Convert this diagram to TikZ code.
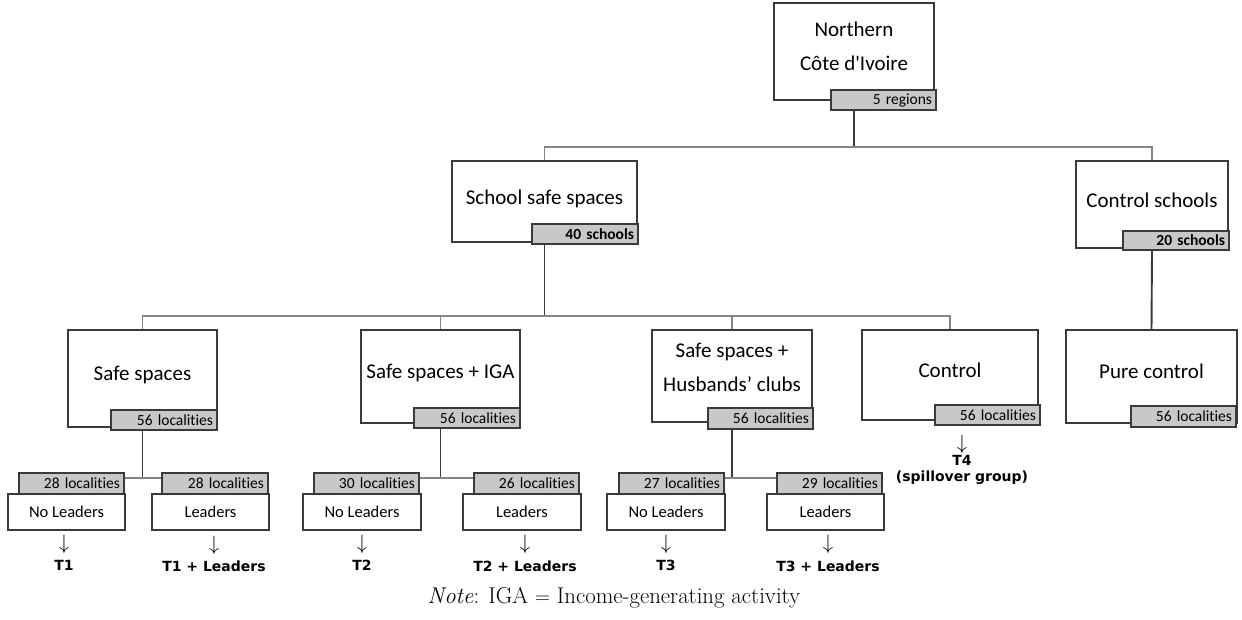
\documentclass[tikz,border=0pt]{standalone}
\usepackage{fontspec}
\newfontfamily\carl{Carlito}[Ligatures={TeX,NoCommon}]
\newfontfamily\carlq{Carlito}[Ligatures={TeXOff,NoCommon}]
\newfontfamily\dvs{DejaVu Sans}
\definecolor{tagfill}{HTML}{C8C8C8}
\definecolor{edge}{HTML}{3A3A3A}
\definecolor{busc}{HTML}{858585}
\newcommand\mkbox[7]{%
  \pgfmathsetmacro\bw{#5-#3}\pgfmathsetmacro\bh{#6-#4}%
  \pgfmathsetmacro\bx{(#3+#5)/2}\pgfmathsetmacro\by{(#4+#6)/2}%
  \pgfmathsetmacro\tw{#5-#3-8}%
  \node[#2, minimum width=\bw pt, minimum height=\bh pt] (#1) at (\bx,\by) {#7};}
\begin{document}
\begin{tikzpicture}[x=1pt,y=-1pt,
  box/.style={draw=edge, line width=1.3pt, fill=white, inner sep=0pt},
  sbox/.style={box, font=\carl\fontsize{16.5}{20}\selectfont},
  tag/.style={draw=edge, line width=1.3pt, fill=tagfill, inner xsep=4pt, inner ysep=0pt,
    text width=\tw pt, align=right, font=\carl\fontsize{15.5}{18}\selectfont},
  btag/.style={tag, font=\carl\bfseries\fontsize{15.5}{18}\selectfont},
  big/.style={font=\carl\fontsize{21}{34}\selectfont, align=center, inner sep=0pt},
  arr/.style={font=\fontsize{20}{22}\selectfont, inner sep=0pt},
  tlab/.style={font=\dvs\bfseries\fontsize{14}{16}\selectfont, align=center, inner sep=0pt},
  conn/.style={draw=edge, line width=1.9pt},
  hbus/.style={draw=busc, line width=1.7pt},
  notestyle/.style={font=\fontsize{22.8}{27}\selectfont, inner sep=0pt}]
\useasboundingbox (0,0) rectangle (1242,619);

% level 0
\mkbox{north}{box}{774}{3}{934}{100}{}
\mkbox{northT}{tag}{831}{90}{936}{110}{5 regions}
\node[big, font=\carlq\fontsize{21}{34}\selectfont, yshift=5pt] (northL) at (north) {Northern\\Côte d'Ivoire};

% level 1
\mkbox{sss}{box}{452}{161}{637}{242}{}
\mkbox{sssT}{btag}{532}{224}{638}{244}{40 schools}
\node[big, yshift=3pt] (sssL) at (sss) {School safe spaces};
\mkbox{cs}{box}{1076}{161}{1228}{248}{}
\mkbox{csT}{btag}{1123}{231}{1229}{250}{20 schools}
\node[big, yshift=4pt] (csL) at (cs) {Control schools};

% level 2
\mkbox{ss}{box}{68}{330}{217}{427}{}
\mkbox{ssT}{tag}{111}{410}{217}{430}{56 localities}
\node[big, yshift=4pt] (ssL) at (ss) {Safe spaces};
\mkbox{iga}{box}{361}{330}{520}{423}{}
\mkbox{igaT}{tag}{414}{408}{520}{428}{56 localities}
\node[big, yshift=4pt] (igaL) at (iga) {Safe spaces + IGA};
\mkbox{hc}{box}{652}{330}{812}{422}{}
\mkbox{hcT}{tag}{708}{408}{813}{429}{56 localities}
\node[big, yshift=9pt] (hcL) at (hc) {Safe spaces +\\Husbands’ clubs};
\mkbox{ctl}{box}{862}{330}{1038}{420}{}
\mkbox{ctlT}{tag}{935}{405}{1040}{425}{56 localities}
\node[big, yshift=5pt] (ctlL) at (ctl) {Control};
\mkbox{pc}{box}{1066}{330}{1237}{423}{}
\mkbox{pcT}{tag}{1131}{406}{1236}{427}{56 localities}
\node[big, yshift=5pt] (pcL) at (pc) {Pure control};

% level 3
\mkbox{nl1}{sbox}{8}{494}{125}{530}{No Leaders}
\mkbox{nlT1}{tag}{19}{473}{124}{494}{28 localities}
\mkbox{l1}{sbox}{152}{494}{269}{530}{Leaders}
\mkbox{lT1}{tag}{162}{473}{268}{494}{28 localities}
\mkbox{nl2}{sbox}{303}{494}{421}{530}{No Leaders}
\mkbox{nlT2}{tag}{314}{473}{419}{494}{30 localities}
\mkbox{l2}{sbox}{463}{494}{581}{530}{Leaders}
\mkbox{lT2}{tag}{474}{473}{579}{494}{26 localities}
\mkbox{nl3}{sbox}{607}{494}{725}{530}{No Leaders}
\mkbox{nlT3}{tag}{619}{473}{724}{494}{27 localities}
\mkbox{l3}{sbox}{767}{494}{884}{530}{Leaders}
\mkbox{lT3}{tag}{777}{473}{882}{494}{29 localities}

% connectors
\coordinate (b1) at (854,147);
\draw[conn] (north.south |- northT.south) -- (b1);
\draw[hbus] (sss.north) |- (b1) -| (cs.north);
\coordinate (b2) at (544.5,316);
\draw[conn] (sss.south |- sssT.south) -- (b2);
\draw[hbus] (ss.north) |- (b2) -| (ctl.north);
\draw[hbus] (iga.north) -- (iga.north |- b2);
\draw[hbus] (hc.north) -- (hc.north |- b2);
\draw[conn] (cs.south |- csT.south) -- (pc.north);
\coordinate (j1) at (142.5,478);
\coordinate (j2) at (440.5,478);
\coordinate (j3) at (732,478);
\draw[conn] (ss.south |- ssT.south) -- (j1);
\draw[conn] (iga.south |- igaT.south) -- (j2);
\draw[conn] (hc.south |- hcT.south) -- (j3);
\draw[hbus] (nlT1.east |- j1) -- (lT1.west |- j1);
\draw[hbus] (nlT2.east |- j2) -- (lT2.west |- j2);
\draw[hbus] (nlT3.east |- j3) -- (lT3.west |- j3);

% outcome labels
\node[arr] (a1) at (64,544) {$\downarrow$};
\node[tlab] (t1) at (64,565) {T1};
\node[arr] (a1l) at (214,545) {$\downarrow$};
\node[tlab] (t1l) at (214,566) {T1 + Leaders};
\node[arr] (a2) at (362,544) {$\downarrow$};
\node[tlab] (t2) at (362,565) {T2};
\node[arr] (a2l) at (525,544) {$\downarrow$};
\node[tlab] (t2l) at (525,566) {T2 + Leaders};
\node[arr] (a3) at (666,544) {$\downarrow$};
\node[tlab] (t3) at (666,565) {T3};
\node[arr] (a3l) at (828,544) {$\downarrow$};
\node[tlab] (t3l) at (828,566) {T3 + Leaders};
\node[arr] (a4) at (962,444) {$\downarrow$};
\node[tlab] (t4) at (962,470) {T4\\(spillover group)};

% note
\node[notestyle] (note) at (614,598) {\textit{Note}: IGA $=$ Income-generating activity};
\end{tikzpicture}
\end{document}
